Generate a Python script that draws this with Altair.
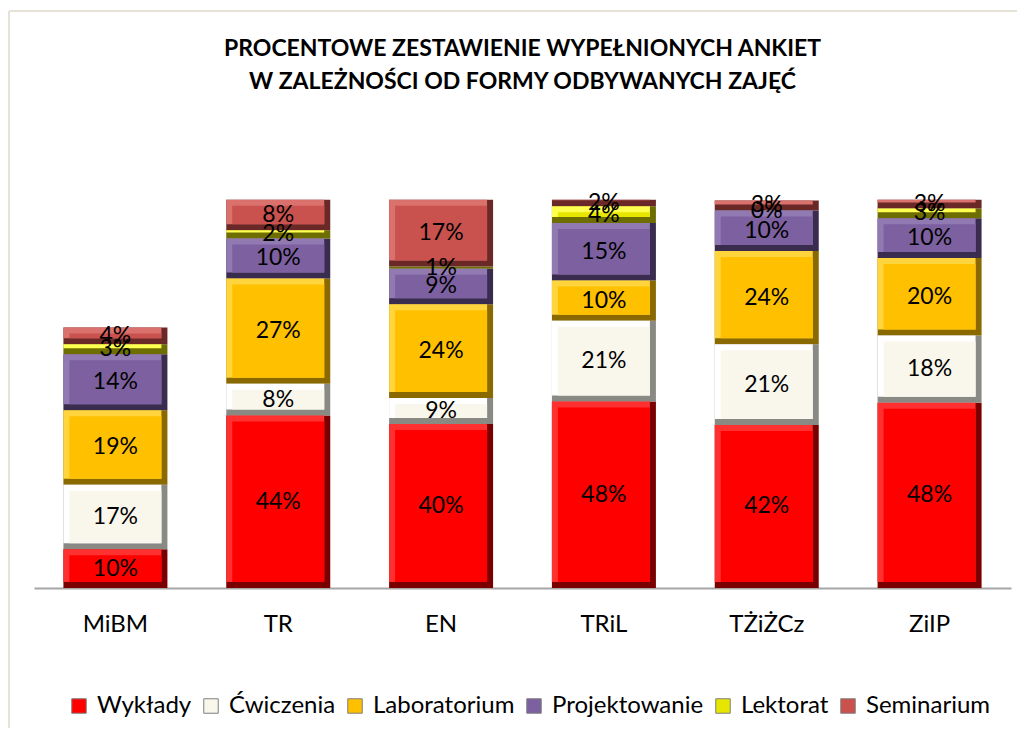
import altair as alt
import pandas as pd

# ---- data ----
kierunki = ["MiBM", "TR", "EN", "TRiL", "TŻiŻCz", "ZiIP"]
formy = ["Wykłady", "Ćwiczenia", "Laboratorium", "Projektowanie", "Lektorat", "Seminarium"]

# segment heights (percent) as drawn
wyklady = [10.0, 44.4, 42.2, 48.0, 42.0, 47.7]
cwiczenia = [16.6, 8.2, 6.7, 20.8, 20.8, 17.3]
laboratorium = [19.2, 27.1, 24.2, 10.4, 24.0, 20.0]
projektowanie = [14.4, 10.3, 9.1, 14.8, 10.4, 10.2]
lektorat = [2.6, 2.1, 0.6, 4.3, 0.0, 2.5]
seminarium = [4.3, 7.9, 17.2, 1.7, 2.6, 2.3]

# data labels as printed
wyklady_lbl = [10, 44, 40, 48, 42, 48]
cwiczenia_lbl = [17, 8, 9, 21, 21, 18]
laboratorium_lbl = [19, 27, 24, 10, 24, 20]
projektowanie_lbl = [14, 10, 9, 15, 10, 10]
lektorat_lbl = [3, 2, 1, 4, 0, 3]
seminarium_lbl = [4, 8, 17, 2, 3, 3]

series = [wyklady, cwiczenia, laboratorium, projektowanie, lektorat, seminarium]
labels = [wyklady_lbl, cwiczenia_lbl, laboratorium_lbl, projektowanie_lbl, lektorat_lbl, seminarium_lbl]

face_colors = ["#ff0000", "#f9f7ec", "#ffc000", "#7d60a0", "#e6e600", "#c9524e"]
light_colors = ["#ff3030", "#ffffff", "#ffd43c", "#9179b2", "#ffff50", "#da716d"]
dark_colors = ["#7a0000", "#8a8a84", "#8a6a00", "#3a2c4e", "#6e6e00", "#6a2826"]

rows = []
for i, f in enumerate(formy):
    for j, k in enumerate(kierunki):
        rows.append({"kierunek": k, "forma": f, "order": i,
                     "value": series[i][j], "label": f"{labels[i][j]}%"})
df = pd.DataFrame(rows)

W, H = 977, 466
BAR = 104
B = 6
FONT = "Lato"

base = alt.Chart(df).transform_stack(
    stack="value", groupby=["kierunek"],
    sort=[alt.SortField("order", order="ascending")], as_=["y0", "y1"]
).transform_calculate(mid="(datum.y0 + datum.y1) / 2")

x = alt.X("kierunek:N", sort=kierunki,
          scale=alt.Scale(paddingInner=0.36, paddingOuter=0.18),
          axis=alt.Axis(title=None, labelAngle=0, labelFont=FONT, labelFontSize=24,
                        labelColor="#000000", labelPadding=24, ticks=False,
                        domainColor="#a6a6a6", domainWidth=2, grid=False))
yscale = alt.Scale(domain=[0, 120], nice=False, zero=True)
y = alt.Y("y1:Q", scale=yscale,
          axis=alt.Axis(title=None, labels=False, ticks=False, domain=False,
                        values=[20, 40, 60, 80, 100, 120],
                        gridColor="#ebe8dd", gridWidth=1.5))
y_noax = alt.Y("y1:Q", scale=yscale, axis=None)


def col(rng, legend=None):
    return alt.Color("forma:N", scale=alt.Scale(domain=formy, range=rng), legend=legend)


outer = base.mark_bar(size=BAR).encode(x=x, y=y, y2="y0:Q", color=col(dark_colors))
light = base.transform_filter("datum.value >= 1.6").mark_bar(
    size=BAR - B, xOffset=-B / 2, y2Offset=-B
).encode(x=x, y=y_noax, y2="y0:Q", color=col(light_colors))
face = base.transform_filter("datum.value >= 3.2").mark_bar(
    size=BAR - 2 * B, yOffset=B, y2Offset=-B
).encode(x=x, y=y_noax, y2="y0:Q",
         color=col(face_colors, alt.Legend(
             title=None, orient="none", legendX=33, legendY=572,
             direction="horizontal", symbolType="square", symbolSize=210,
             symbolStrokeColor="#7f7f7f", symbolStrokeWidth=1,
             labelFont=FONT, labelFontSize=24, labelColor="#000000",
             labelOffset=6, columnPadding=7)))
text = base.mark_text(font=FONT, fontSize=23, color="#000000",
                      align="center", baseline="middle").encode(
    x=x, y=alt.Y("mid:Q", scale=yscale, axis=None), text="label:N")

frame_data = alt.Data(values=[{"a": 1}])
frame_left = alt.Chart(frame_data).mark_rule(color="#e6e3d6", strokeWidth=2).encode(
    x=alt.value(-25), y=alt.value(-111), y2=alt.value(H + 140))
frame_top = alt.Chart(frame_data).mark_rule(color="#e6e3d6", strokeWidth=2).encode(
    x=alt.value(-25), x2=alt.value(W + 40), y=alt.value(-111))

chart = alt.layer(frame_left, frame_top, outer, light, face, text).resolve_scale(
    color="independent"
).properties(
    width=W, height=H,
    title=alt.TitleParams(
        text=["PROCENTOWE ZESTAWIENIE WYPEŁNIONYCH ANKIET",
              "W ZALEŻNOŚCI OD FORMY ODBYWANYCH ZAJĘĆ"],
        font=FONT, fontSize=23, fontWeight="bold", color="#000000",
        anchor="middle", frame="group", lineHeight=33, offset=-84),
    autosize=alt.AutoSizeParams(type="none"),
    padding={"left": 26, "top": 114, "right": 6, "bottom": 150},
).configure_view(stroke=None)

chart.save("out.html", embed_options={"renderer": "svg", "actions": False})
